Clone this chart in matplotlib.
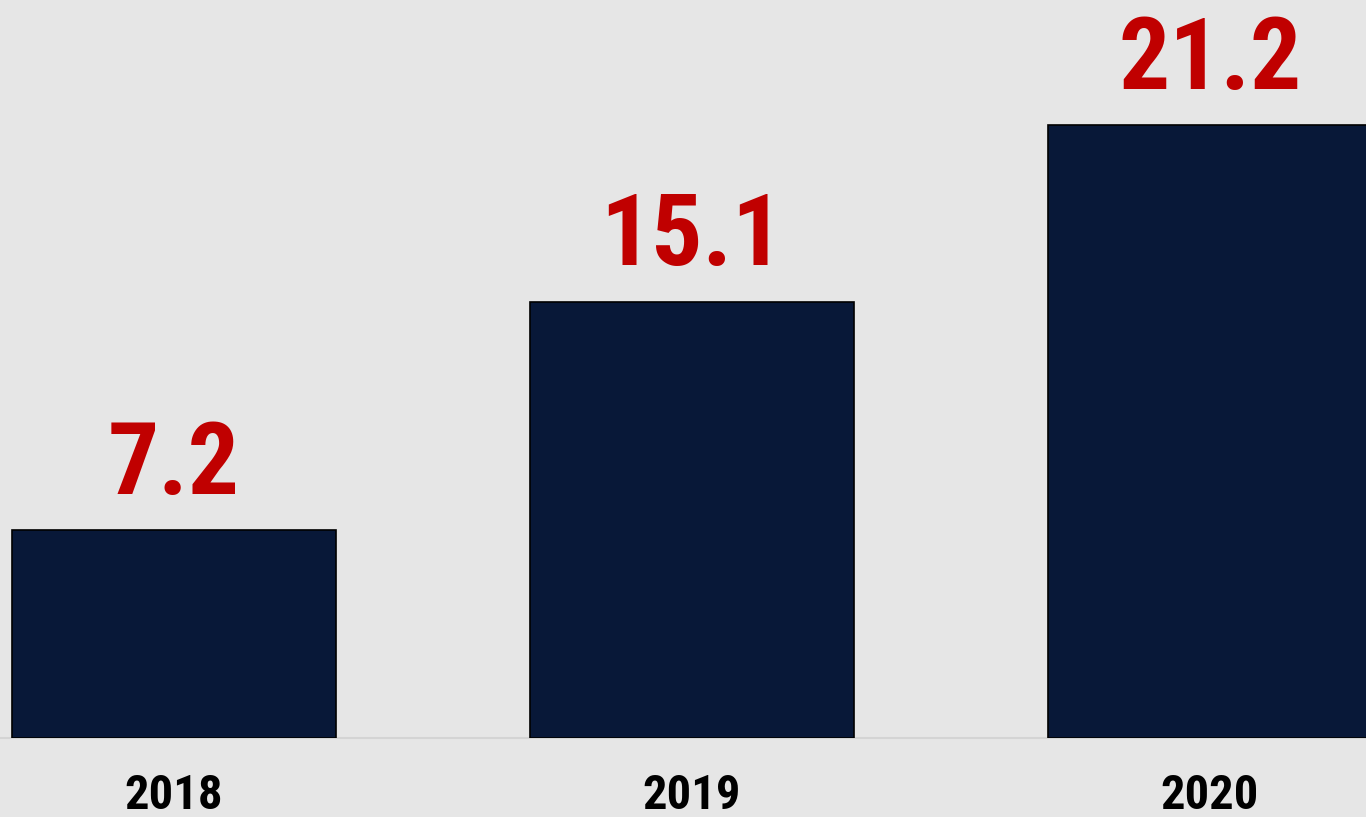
import numpy as np
import matplotlib.pyplot as plt

years = ["2018", "2019", "2020"]
values = [7.2, 15.1, 21.2]

bg = "#e6e6e6"
bar_color = "#081838"
label_red = "#c00000"
fonts = ["Roboto Condensed", "DejaVu Sans"]

fig = plt.figure(figsize=(13.66, 8.17), dpi=100, facecolor=bg)
ax = fig.add_axes([0, 79 / 817, 1, 738 / 817])
ax.set_facecolor(bg)

x = np.arange(len(years))
bars = ax.bar(x, values, width=0.625, color=bar_color, edgecolor="black", linewidth=1.2, zorder=3)

# value labels above bars
for b, v in zip(bars, values):
    ax.annotate(f"{v:.1f}", (b.get_x() + b.get_width() / 2, v),
                xytext=(0, 26), textcoords="offset points",
                ha="center", va="baseline", fontsize=73, fontweight="bold",
                color=label_red, family=fonts)

ax.set_xlim(-174 / 518, 1192 / 518)
ax.set_ylim(0, 738 / 28.9)

ax.set_xticks(x)
ax.set_xticklabels(years, fontsize=35, fontweight="bold", family=fonts)
ax.tick_params(axis="x", length=0, pad=25)
ax.set_yticks([])

for s in ["top", "left", "right"]:
    ax.spines[s].set_visible(False)
ax.spines["bottom"].set_color("#d4d4d4")
ax.spines["bottom"].set_linewidth(1.5)
ax.spines["bottom"].set_zorder(1)

fig.savefig("out.png", dpi=100, facecolor=bg)
